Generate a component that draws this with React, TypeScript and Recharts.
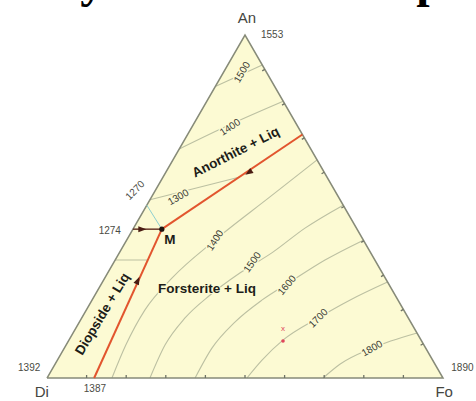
import React from 'react';
import { ComposedChart, Area, Line, Scatter, XAxis, YAxis } from 'recharts';

const W = 476;
const H = 401;
const PX = 396; // pixel length of one triangle side
const H3 = Math.sqrt(3) / 2;

// every composition is [Fo %, An %]; Di is the rest
const corners = [[0, 0], [0, 100], [100, 0]]; // Di, An, Fo
const outline = [[0, 0], [100, 0], [0, 100], [0, 0]];

// liquidus isotherms, Forsterite field
const fo1400 = [[16.4, 0], [15.1, 9.6], [14.8, 19.8], [17.0, 29.2], [22.3, 40.2], [29.9, 52.8], [36.4, 63.6]];
const fo1500 = [[26.0, 0], [25.0, 9.6], [26.1, 17.5], [29.1, 24.2], [33.4, 30.6], [38.7, 36.7], [43.3, 43.7], [49.6, 50.4]];
const fo1600 = [[37.4, 0], [37.3, 8.7], [39.3, 16.3], [42.9, 22.7], [47.4, 28.0], [53.0, 34.4], [59.8, 40.2]];
const fo1700 = [[50.5, 0], [51.7, 5.2], [54.1, 11.1], [59.7, 17.5], [65.1, 22.7], [72.0, 28.0]];
const fo1800 = [[69.7, 0], [72.0, 4.1], [77.7, 8.7], [86.9, 13.1]];
// Anorthite field
const an1300 = [[0, 52.0], [19.4, 58.6]];
const an1400 = [[0, 66.8], [8.3, 73.2], [19.3, 80.7]];
const an1500 = [[0, 85.0], [8.7, 91.3]];
// Diopside field
const di1300 = [[0, 34.4], [8.3, 34.4]];

const isotherms = [fo1400, fo1500, fo1600, fo1700, fo1800, an1300, an1400, an1500, di1300];

// field boundaries
const cotecticAn = [[29.0, 71.0], [7.3, 43.4]];
const cotecticDi = [[11.9, 0], [7.3, 43.4]];
const joinEutectic = [[0, 43.4], [7.3, 43.4]];
const join1270 = [[0, 50.4], [7.3, 43.4]];
const pointM = [7.3, 43.4];
const pointX = [54.2, 10.8];

const tickSteps = [10, 20, 30, 40, 50, 60, 70, 80, 90];

const arrows = [
  { at: [20.9, 59.8], on: cotecticAn },
  { at: [8.7, 28.6], on: cotecticDi },
  { at: [2.5, 43.4], on: joinEutectic },
];

const cornerLabels = [
  { text: 'An', at: [-2, 105] },
  { text: 'Di', at: [0.6, -3.8] },
  { text: 'Fo', at: [102.2, -3.8] },
];

const tempLabels = [
  { text: '1553', at: [6.7, 100.3], rot: 0 },
  { text: '1392', at: [-6.1, 3.2], rot: 0 },
  { text: '1890', at: [103.3, 3.2], rot: 0 },
  { text: '1387', at: [13.7, -3.2], rot: 0 },
  { text: '1274', at: [-5.7, 43.1], rot: 0 },
  { text: '1270', at: [-5.2, 54.8], rot: -45 },
];

const isoLabels = [
  { text: '1500', at: [4.6, 89.2], rot: -60 },
  { text: '1400', at: [9.6, 73.2], rot: -33 },
  { text: '1300', at: [6.7, 52.8], rot: -30 },
  { text: '1400', at: [22.3, 40.2], rot: -57 },
  { text: '1500', at: [34.9, 33.8], rot: -55 },
  { text: '1600', at: [47.0, 27.1], rot: -50 },
  { text: '1700', at: [59.7, 17.5], rot: -45 },
  { text: '1800', at: [77.7, 8.7], rot: -30 },
];

const fieldLabels = [
  { text: 'Anorthite + Liq', at: [14.7, 65.9], rot: -27 },
  { text: 'Forsterite + Liq', at: [27.3, 26.2], rot: 0 },
  { text: 'Diopside + Liq', at: [4.6, 18.7], rot: -59 },
  { text: 'M', at: [10.8, 40.5], rot: 0 },
];

const toXY = (c: number[]) => ({ x: (c[0] + c[1] / 2) / 100, y: (c[1] / 100) * H3 });

const FILL = '#fcfad3';
const EDGE = '#878b79';
const ISO = '#bcc0a2';
const RED = '#e2552e';

const triangleData = corners.map((c) => ({ x: toXY(c).x, tri: toXY(c).y }));

const labelShape = (style: any) => (p: any) => {
  const { cx, cy, payload } = p;
  return (
    <text
      x={cx}
      y={cy}
      textAnchor="middle"
      dominantBaseline="central"
      transform={payload.rot ? `rotate(${payload.rot} ${cx} ${cy})` : undefined}
      {...style}
    >
      {payload.text}
    </text>
  );
};

const arrowShape = (p: any) => {
  const a = toXY(p.payload.on[0]);
  const b = toXY(p.payload.on[1]);
  const dir = (Math.atan2(-(b.y - a.y), b.x - a.x) * 180) / Math.PI;
  return (
    <polygon
      points="-4.5,-3 3.5,0 -4.5,3"
      fill="#4a1c12"
      transform={`translate(${p.cx},${p.cy}) rotate(${dir})`}
    />
  );
};

const bottomTick = (p: any) => (
  <line x1={p.cx} y1={p.cy} x2={p.cx} y2={p.cy - 3} stroke="#6f7366" strokeWidth={1.3} />
);
const rightTick = (p: any) => (
  <line x1={p.cx} y1={p.cy} x2={p.cx - 2.6} y2={p.cy + 1.5} stroke="#6f7366" strokeWidth={1.3} />
);

const withText = (list: any[]) => list.map((l) => ({ ...toXY(l.at), text: l.text, rot: l.rot }));

export default function App() {
  const xDomain = [-47 / PX, (W - 47) / PX];
  const yDomain = [-(H - 378) / PX, 378 / PX];
  const sans = 'Liberation Sans, Arial, sans-serif';
  return (
    <div style={{ position: 'absolute', left: 0, top: 0, width: W, height: H, background: '#fff' }}>
      <ComposedChart width={W} height={H} data={triangleData} margin={{ top: 0, right: 0, bottom: 0, left: 0 }}>
        <XAxis type="number" dataKey="x" domain={xDomain} allowDataOverflow hide />
        <YAxis type="number" domain={yDomain} allowDataOverflow hide />
        <Area type="linear" dataKey="tri" baseValue={0} fill={FILL} fillOpacity={1} stroke="none" isAnimationActive={false} />
        {isotherms.map((iso, i) => (
          <Line key={'iso' + i} data={iso.map(toXY)} dataKey="y" type="monotone" stroke={ISO} strokeWidth={1.1}
            dot={false} activeDot={false} isAnimationActive={false} />
        ))}
        <Line data={outline.map(toXY)} dataKey="y" type="linear" stroke={EDGE} strokeWidth={1.5}
          dot={false} activeDot={false} isAnimationActive={false} />
        <Line data={join1270.map(toXY)} dataKey="y" type="linear" stroke="#8ecfd0" strokeWidth={1}
          dot={false} activeDot={false} isAnimationActive={false} />
        <Line data={joinEutectic.map(toXY)} dataKey="y" type="linear" stroke="#5e2a1e" strokeWidth={1.4}
          dot={false} activeDot={false} isAnimationActive={false} />
        <Line data={cotecticAn.map(toXY)} dataKey="y" type="linear" stroke={RED} strokeWidth={2}
          dot={false} activeDot={false} isAnimationActive={false} />
        <Line data={cotecticDi.map(toXY)} dataKey="y" type="linear" stroke={RED} strokeWidth={2}
          dot={false} activeDot={false} isAnimationActive={false} />
        <Scatter data={tickSteps.map((t) => toXY([t, 0]))} dataKey="y" shape={bottomTick} isAnimationActive={false} />
        <Scatter data={tickSteps.map((t) => toXY([100 - t, t]))} dataKey="y" shape={rightTick} isAnimationActive={false} />
        <Scatter data={arrows.map((a) => ({ ...toXY(a.at), on: a.on }))} dataKey="y" shape={arrowShape} isAnimationActive={false} />
        <Scatter data={[toXY(pointM)]} dataKey="y" isAnimationActive={false}
          shape={(p: any) => <circle cx={p.cx} cy={p.cy} r={2.6} fill="#1e1410" />} />
        <Scatter data={[toXY(pointX)]} dataKey="y" isAnimationActive={false}
          shape={(p: any) => (
            <g>
              <circle cx={p.cx} cy={p.cy} r={1.8} fill="#e0465a" />
              <text x={p.cx} y={p.cy - 10} textAnchor="middle" fontSize={8} fill="#e0465a" fontFamily={sans}>x</text>
            </g>
          )} />
        <Scatter data={withText(isoLabels)} dataKey="y" isAnimationActive={false}
          shape={labelShape({ fontSize: 10, fill: '#3a3a34', fontFamily: sans, stroke: FILL, strokeWidth: 3, paintOrder: 'stroke' })} />
        <Scatter data={withText(tempLabels)} dataKey="y" isAnimationActive={false}
          shape={labelShape({ fontSize: 10, fill: '#4a4b44', fontFamily: sans })} />
        <Scatter data={withText(cornerLabels)} dataKey="y" isAnimationActive={false}
          shape={labelShape({ fontSize: 15, fill: '#45463f', fontFamily: sans })} />
        <Scatter data={withText(fieldLabels)} dataKey="y" isAnimationActive={false}
          shape={labelShape({ fontSize: 13.5, fontWeight: 700, fill: '#1d1d18', fontFamily: sans, stroke: FILL, strokeWidth: 2, paintOrder: 'stroke' })} />
      </ComposedChart>
      <svg width={W} height={20} style={{ position: 'absolute', left: 0, top: 0 }}>
        <text x={-62} y={-3} fontSize={48} fontWeight={700} fontFamily="Liberation Serif, Times New Roman, serif" fill="#000">
          Ternary Eutectic Example
        </text>
      </svg>
    </div>
  );
}
